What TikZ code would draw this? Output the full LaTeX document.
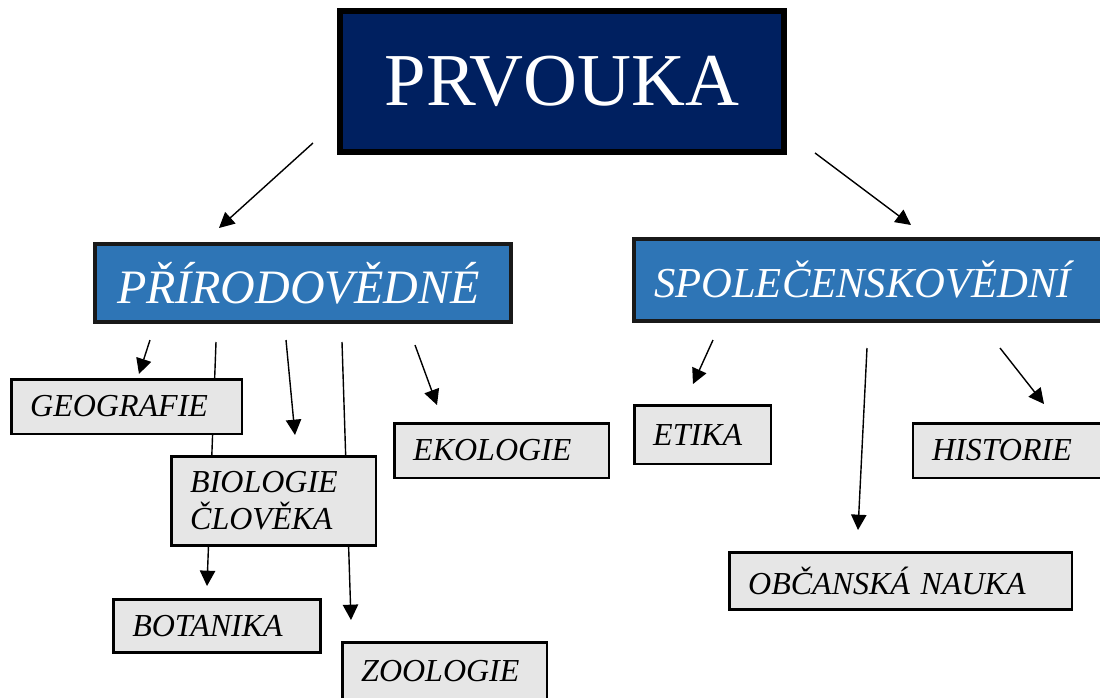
\documentclass[tikz,border=0pt]{standalone}
\usepackage{fontspec}
\setmainfont{Liberation Serif}
\usetikzlibrary{arrows.meta}
\definecolor{navy}{HTML}{002060}
\definecolor{midblue}{HTML}{2E75B6}
\definecolor{boxgray}{HTML}{E6E6E6}
\begin{document}
\begin{tikzpicture}[x=0.75pt,y=-0.75pt,
  arr/.style={line width=1.05pt,-{Triangle[length=11.5pt,width=11.5pt]}},
  topbox/.style={draw=black,fill=navy,line width=4.5pt,inner sep=0pt,text=white,
    font=\fontsize{56}{60}\selectfont},
  catbox/.style={draw=black!90,fill=midblue,line width=3pt,inner ysep=0pt,text=white,align=left},
  subbox/.style={draw=black,fill=boxgray,line width=1.9pt,inner ysep=0pt,inner xsep=14.25pt,
    align=left,font=\fontsize{24}{27.75}\selectfont\itshape}]
\useasboundingbox (0,0) rectangle (1100,697);
% free arrow ends
\coordinate (p1s) at (313,143); \coordinate (p1e) at (219,228);
\coordinate (p2s) at (815,153); \coordinate (p2e) at (911,225);
\coordinate (g1s) at (150,340); \coordinate (g1e) at (139,374);
\coordinate (bt1s) at (216,342); \coordinate (bt1e) at (207,586);
\coordinate (bi1s) at (286,340); \coordinate (bi1e) at (295,435);
\coordinate (zo1s) at (342,342); \coordinate (zo1e) at (351,620);
\coordinate (ek1s) at (415,345); \coordinate (ek1e) at (437,405);
\coordinate (et1s) at (713,340); \coordinate (et1e) at (693,384);
\coordinate (ob1s) at (867,348); \coordinate (ob1e) at (858,530);
\coordinate (hi1s) at (1000,348); \coordinate (hi1e) at (1044,404);
\draw[arr] (p1s) -- (p1e);
\draw[arr] (p2s) -- (p2e);
\draw[arr] (g1s) -- (g1e);
\draw[arr] (bt1s) -- (bt1e);
\draw[arr] (bi1s) -- (bi1e);
\draw[arr] (zo1s) -- (zo1e);
\draw[arr] (ek1s) -- (ek1e);
\draw[arr] (et1s) -- (et1e);
\draw[arr] (ob1s) -- (ob1e);
\draw[arr] (hi1s) -- (hi1e);
% nodes
\node[topbox,minimum width=333pt,minimum height=105.75pt] (prvouka) at (562,81.5) {PRVOUKA};
\node[catbox,font=\fontsize{36}{40}\selectfont\itshape,inner xsep=16.5pt,text width=279pt,minimum height=58.5pt] (prir) at (303,283) {PŘÍRODOVĚDNÉ};
\node[catbox,font=\fontsize{32}{36}\selectfont\itshape,inner xsep=15pt,text width=327pt,minimum height=61.5pt] (spol) at (872,280) {SPOLEČENSKOVĚDNÍ};
\node[subbox,text width=144.4pt,minimum height=40.9pt] (geo) at (126.5,406.5) {GEOGRAFIE};
\node[subbox,text width=124.9pt,minimum height=67.1pt] (bio) at (273.5,501) {BIOLOGIE\\ČLOVĚKA};
\node[subbox,text width=132.4pt,minimum height=40.9pt] (eko) at (501.5,450.5) {EKOLOGIE};
\node[subbox,text width=127.1pt,minimum height=40.1pt] (bot) at (217,626) {BOTANIKA};
\node[subbox,text width=124.9pt,minimum height=42.75pt] (zoo) at (444.5,671) {ZOOLOGIE};
\node[subbox,text width=73.9pt,minimum height=43.9pt] (eti) at (702.5,434.5) {ETIKA};
\node[subbox,text width=123pt,minimum height=40.9pt] (his) at (1014,450.5) {HISTORIE};
\node[subbox,text width=228.4pt,minimum height=43.1pt] (obc) at (900.5,581) {OBČANSKÁ NAUKA};
\end{tikzpicture}
\end{document}
